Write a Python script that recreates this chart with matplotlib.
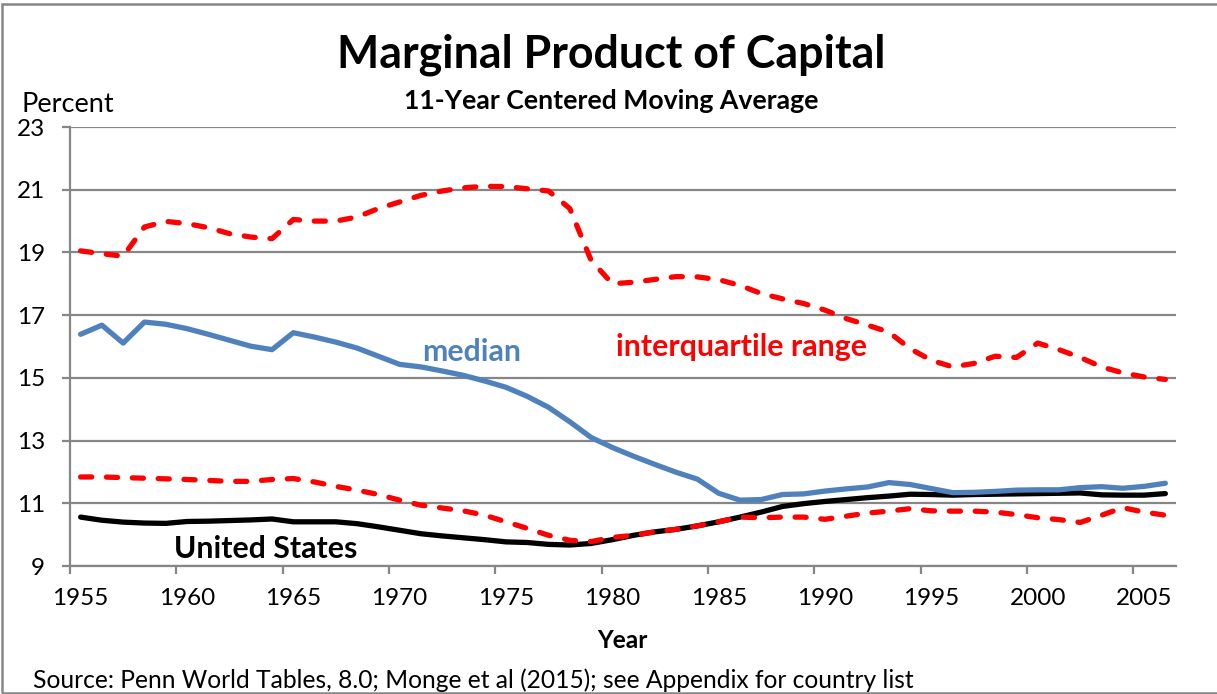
import numpy as np
import matplotlib.pyplot as plt
from matplotlib.patches import Rectangle

plt.rcParams['font.family'] = ['Lato', 'DejaVu Sans']

years = np.arange(1955, 2007)

iqr_high = [19.05, 18.96, 18.88, 19.81, 19.99, 19.92, 19.79, 19.60, 19.49, 19.44,
            20.05, 20.00, 20.00, 20.13, 20.40, 20.61, 20.82, 20.96, 21.06, 21.11,
            21.10, 21.03, 20.96, 20.40, 18.75, 18.00, 18.05, 18.14, 18.23, 18.22,
            18.13, 17.95, 17.69, 17.52, 17.37, 17.16, 16.89, 16.68, 16.46, 15.93,
            15.56, 15.35, 15.46, 15.69, 15.65, 16.11, 15.90, 15.65, 15.35, 15.16,
            15.03, 14.95]

median = [16.39, 16.68, 16.11, 16.78, 16.71, 16.57, 16.39, 16.20, 16.01, 15.90,
          16.44, 16.30, 16.14, 15.95, 15.69, 15.43, 15.35, 15.22, 15.08, 14.90,
          14.70, 14.41, 14.06, 13.60, 13.10, 12.78, 12.50, 12.24, 11.99, 11.77,
          11.32, 11.10, 11.12, 11.28, 11.30, 11.39, 11.46, 11.52, 11.66, 11.60,
          11.47, 11.34, 11.35, 11.38, 11.42, 11.43, 11.43, 11.50, 11.53, 11.48,
          11.54, 11.64]

iqr_low = [11.84, 11.84, 11.82, 11.80, 11.78, 11.76, 11.73, 11.70, 11.70, 11.76,
           11.79, 11.68, 11.54, 11.42, 11.28, 11.10, 10.94, 10.85, 10.76, 10.62,
           10.41, 10.20, 9.98, 9.82, 9.78, 9.91, 9.98, 10.09, 10.17, 10.28,
           10.41, 10.56, 10.54, 10.56, 10.56, 10.49, 10.59, 10.69, 10.75, 10.83,
           10.76, 10.75, 10.75, 10.72, 10.64, 10.54, 10.48, 10.39, 10.62, 10.86,
           10.72, 10.62]

us = [10.56, 10.46, 10.40, 10.37, 10.36, 10.42, 10.43, 10.45, 10.47, 10.50,
      10.41, 10.41, 10.41, 10.35, 10.25, 10.14, 10.03, 9.96, 9.90, 9.84,
      9.77, 9.75, 9.69, 9.67, 9.72, 9.84, 9.98, 10.09, 10.17, 10.28,
      10.41, 10.56, 10.72, 10.90, 10.99, 11.06, 11.12, 11.18, 11.23, 11.29,
      11.28, 11.26, 11.28, 11.29, 11.30, 11.31, 11.32, 11.33, 11.27, 11.26,
      11.26, 11.31]

label_years = np.arange(1955, 2006, 5)
y_ticks = np.arange(9, 24, 2)

gray = '#868686'
blue = '#4F81BD'
red = '#FF0000'

fig = plt.figure(figsize=(12.17, 6.94), dpi=100)
fig.patches.append(Rectangle((0.002, 0.002), 1.2, 0.992, transform=fig.transFigure,
                             fill=False, edgecolor=gray, lw=1.8))
ax = fig.add_axes([0.0575, 0.1844, 0.9088, 0.6326])

ax.plot(years, us, color='black', lw=3.8, solid_capstyle='round')
ax.plot(years, median, color=blue, lw=3.8, solid_capstyle='round')
dash = (2.1, 2.8)
ax.plot(years, iqr_low, color=red, lw=3.8, ls=(0, dash), dash_capstyle='round')
ax.plot(years, iqr_high, color=red, lw=3.8, ls=(0, dash), dash_capstyle='round')

ax.set_xlim(1954.5, 2006.5)
ax.set_ylim(9, 23)
ax.set_yticks(y_ticks)
ax.yaxis.grid(True, color=gray, lw=1.6)
ax.set_axisbelow(True)
ax.set_xticks(label_years)
ax.set_xticks(label_years - 0.5, minor=True)
ax.tick_params(axis='x', which='major', length=0, pad=16, labelsize=17.5)
ax.tick_params(axis='x', which='minor', length=6, width=1.6, color=gray, direction='out')
ax.tick_params(axis='y', length=6, width=1.6, color=gray, pad=12, labelsize=17.5)
for s in ['top', 'right']:
    ax.spines[s].set_visible(False)
for s in ['left', 'bottom']:
    ax.spines[s].set_color(gray)
    ax.spines[s].set_linewidth(1.6)

ax.text(1973.4, 15.82, 'median', color=blue, fontsize=21.8, fontweight='bold',
        ha='center', va='center')
ax.text(1986.05, 16.0, 'interquartile range', color=red, fontsize=21.8,
        fontweight='bold', ha='center', va='center')
ax.text(1963.7, 9.53, 'United States', color='black', fontsize=21.8,
        fontweight='bold', ha='center', va='center')

fig.text(611 / 1217, 1 - 55 / 694, 'Marginal Product of Capital', fontsize=32.2,
         fontweight='bold', ha='center', va='center')
fig.text(611 / 1217, 1 - 101 / 694, '11-Year Centered Moving Average', fontsize=19.2,
         fontweight='bold', ha='center', va='center')
fig.text(22 / 1217, 1 - 104 / 694, 'Percent', fontsize=19.5, ha='left', va='center')
fig.text(622 / 1217, 1 - 640 / 694, 'Year', fontsize=17.6, fontweight='bold',
         ha='center', va='center')
fig.text(33 / 1217, 1 - 680 / 694,
         'Source: Penn World Tables, 8.0; Monge et al (2015); see Appendix for country list',
         fontsize=17.7, ha='left', va='center')

fig.savefig('out.png', dpi=100)
